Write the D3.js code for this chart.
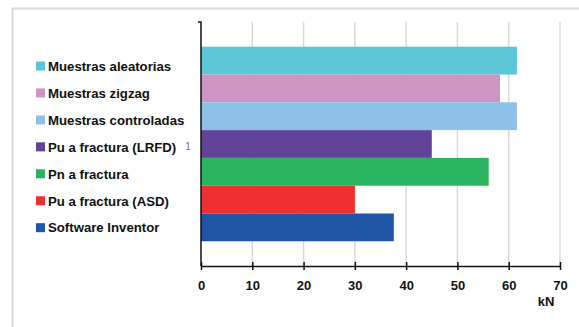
<!DOCTYPE html>
<html>
<head>
<meta charset="utf-8">
<script src="https://cdn.jsdelivr.net/npm/d3@7"></script>
<style>
  html, body { margin: 0; padding: 0; background: #fff; }
  svg { display: block; }
</style>
</head>
<body>
<svg id="chart" width="579" height="327"></svg>
<script>
// Series names (top to bottom as drawn), their values in kN and colours
const seriesNames = [
  "Muestras aleatorias",
  "Muestras zigzag",
  "Muestras controladas",
  "Pu a fractura (LRFD)",
  "Pn a fractura",
  "Pu a fractura (ASD)",
  "Software Inventor"
];
const seriesValues = [61.6, 58.3, 61.6, 45.0, 56.1, 30.0, 37.6];
const seriesColors = ["#5bc6d6", "#cc95c4", "#8dc1e8", "#62439a", "#2bb45f", "#ef3030", "#2155a6"];
const xTicks = [0, 10, 20, 30, 40, 50, 60, 70];
const categoryLabel = "1";
const unitLabel = "kN";

const svg = d3.select("#chart");
const font = "'Liberation Sans', Arial, sans-serif";

// chart frame
svg.append("rect")
  .attr("x", 12.5).attr("y", 8.5)
  .attr("width", 570).attr("height", 330)
  .attr("fill", "#fff")
  .attr("stroke", "#d9d9d9").attr("stroke-width", 2);

const plot = { left: 201, right: 560, top: 22, bottom: 266 };

const x = d3.scaleLinear().domain([0, 70]).range([plot.left, plot.right]);
const y = d3.scaleBand()
  .domain(seriesNames)
  .range([plot.top, plot.bottom])
  .paddingInner(0)
  .paddingOuter(0.89);

// vertical gridlines
svg.append("g")
  .selectAll("line")
  .data(xTicks.filter(t => t > 0))
  .join("line")
  .attr("x1", d => x(d)).attr("x2", d => x(d))
  .attr("y1", plot.top).attr("y2", plot.bottom)
  .attr("stroke", "#d9d9d9").attr("stroke-width", 1.5);

// bars
svg.append("g")
  .selectAll("rect")
  .data(seriesNames)
  .join("rect")
  .attr("x", x(0))
  .attr("y", d => y(d))
  .attr("width", (d, i) => x(seriesValues[i]) - x(0))
  .attr("height", y.bandwidth())
  .attr("fill", (d, i) => seriesColors[i]);

// x axis
const xAxis = svg.append("g")
  .attr("transform", `translate(0,${plot.bottom})`)
  .call(d3.axisBottom(x).tickValues(xTicks).tickSize(0).tickPadding(15));
xAxis.select(".domain").attr("stroke", "#111").attr("stroke-width", 1.5);
xAxis.selectAll(".tick line").remove();
xAxis.selectAll(".tick").append("line")
  .attr("y1", -4).attr("y2", 4)
  .attr("stroke", "#111").attr("stroke-width", 1.5);
xAxis.selectAll(".tick text")
  .attr("font-family", font)
  .attr("font-weight", "bold")
  .attr("font-size", 13)
  .attr("fill", "#111");

// y axis line with its end tick
svg.append("path")
  .attr("d", `M${plot.left - 3},${plot.top} H${plot.left} V${plot.bottom}`)
  .attr("fill", "none")
  .attr("stroke", "#111").attr("stroke-width", 1.5);

// category label
svg.append("text")
  .attr("x", 188).attr("y", 150)
  .attr("text-anchor", "middle")
  .attr("font-family", font)
  .attr("font-size", 10)
  .attr("fill", "#777")
  .text(categoryLabel);

// unit label
svg.append("text")
  .attr("x", 546).attr("y", 306)
  .attr("text-anchor", "middle")
  .attr("font-family", font)
  .attr("font-weight", "bold")
  .attr("font-size", 13)
  .attr("fill", "#111")
  .text(unitLabel);

// legend
const legend = svg.append("g")
  .selectAll("g")
  .data(seriesNames)
  .join("g")
  .attr("transform", (d, i) => `translate(36,${66 + i * 26.95})`);
legend.append("rect")
  .attr("x", 0).attr("y", -4.5)
  .attr("width", 9).attr("height", 9)
  .attr("fill", (d, i) => seriesColors[i]);
legend.append("text")
  .attr("x", 12).attr("y", 0)
  .attr("dy", "0.36em")
  .attr("font-family", font)
  .attr("font-weight", "bold")
  .attr("font-size", 13.2)
  .attr("fill", "#111")
  .text(d => d);
</script>
</body>
</html>
